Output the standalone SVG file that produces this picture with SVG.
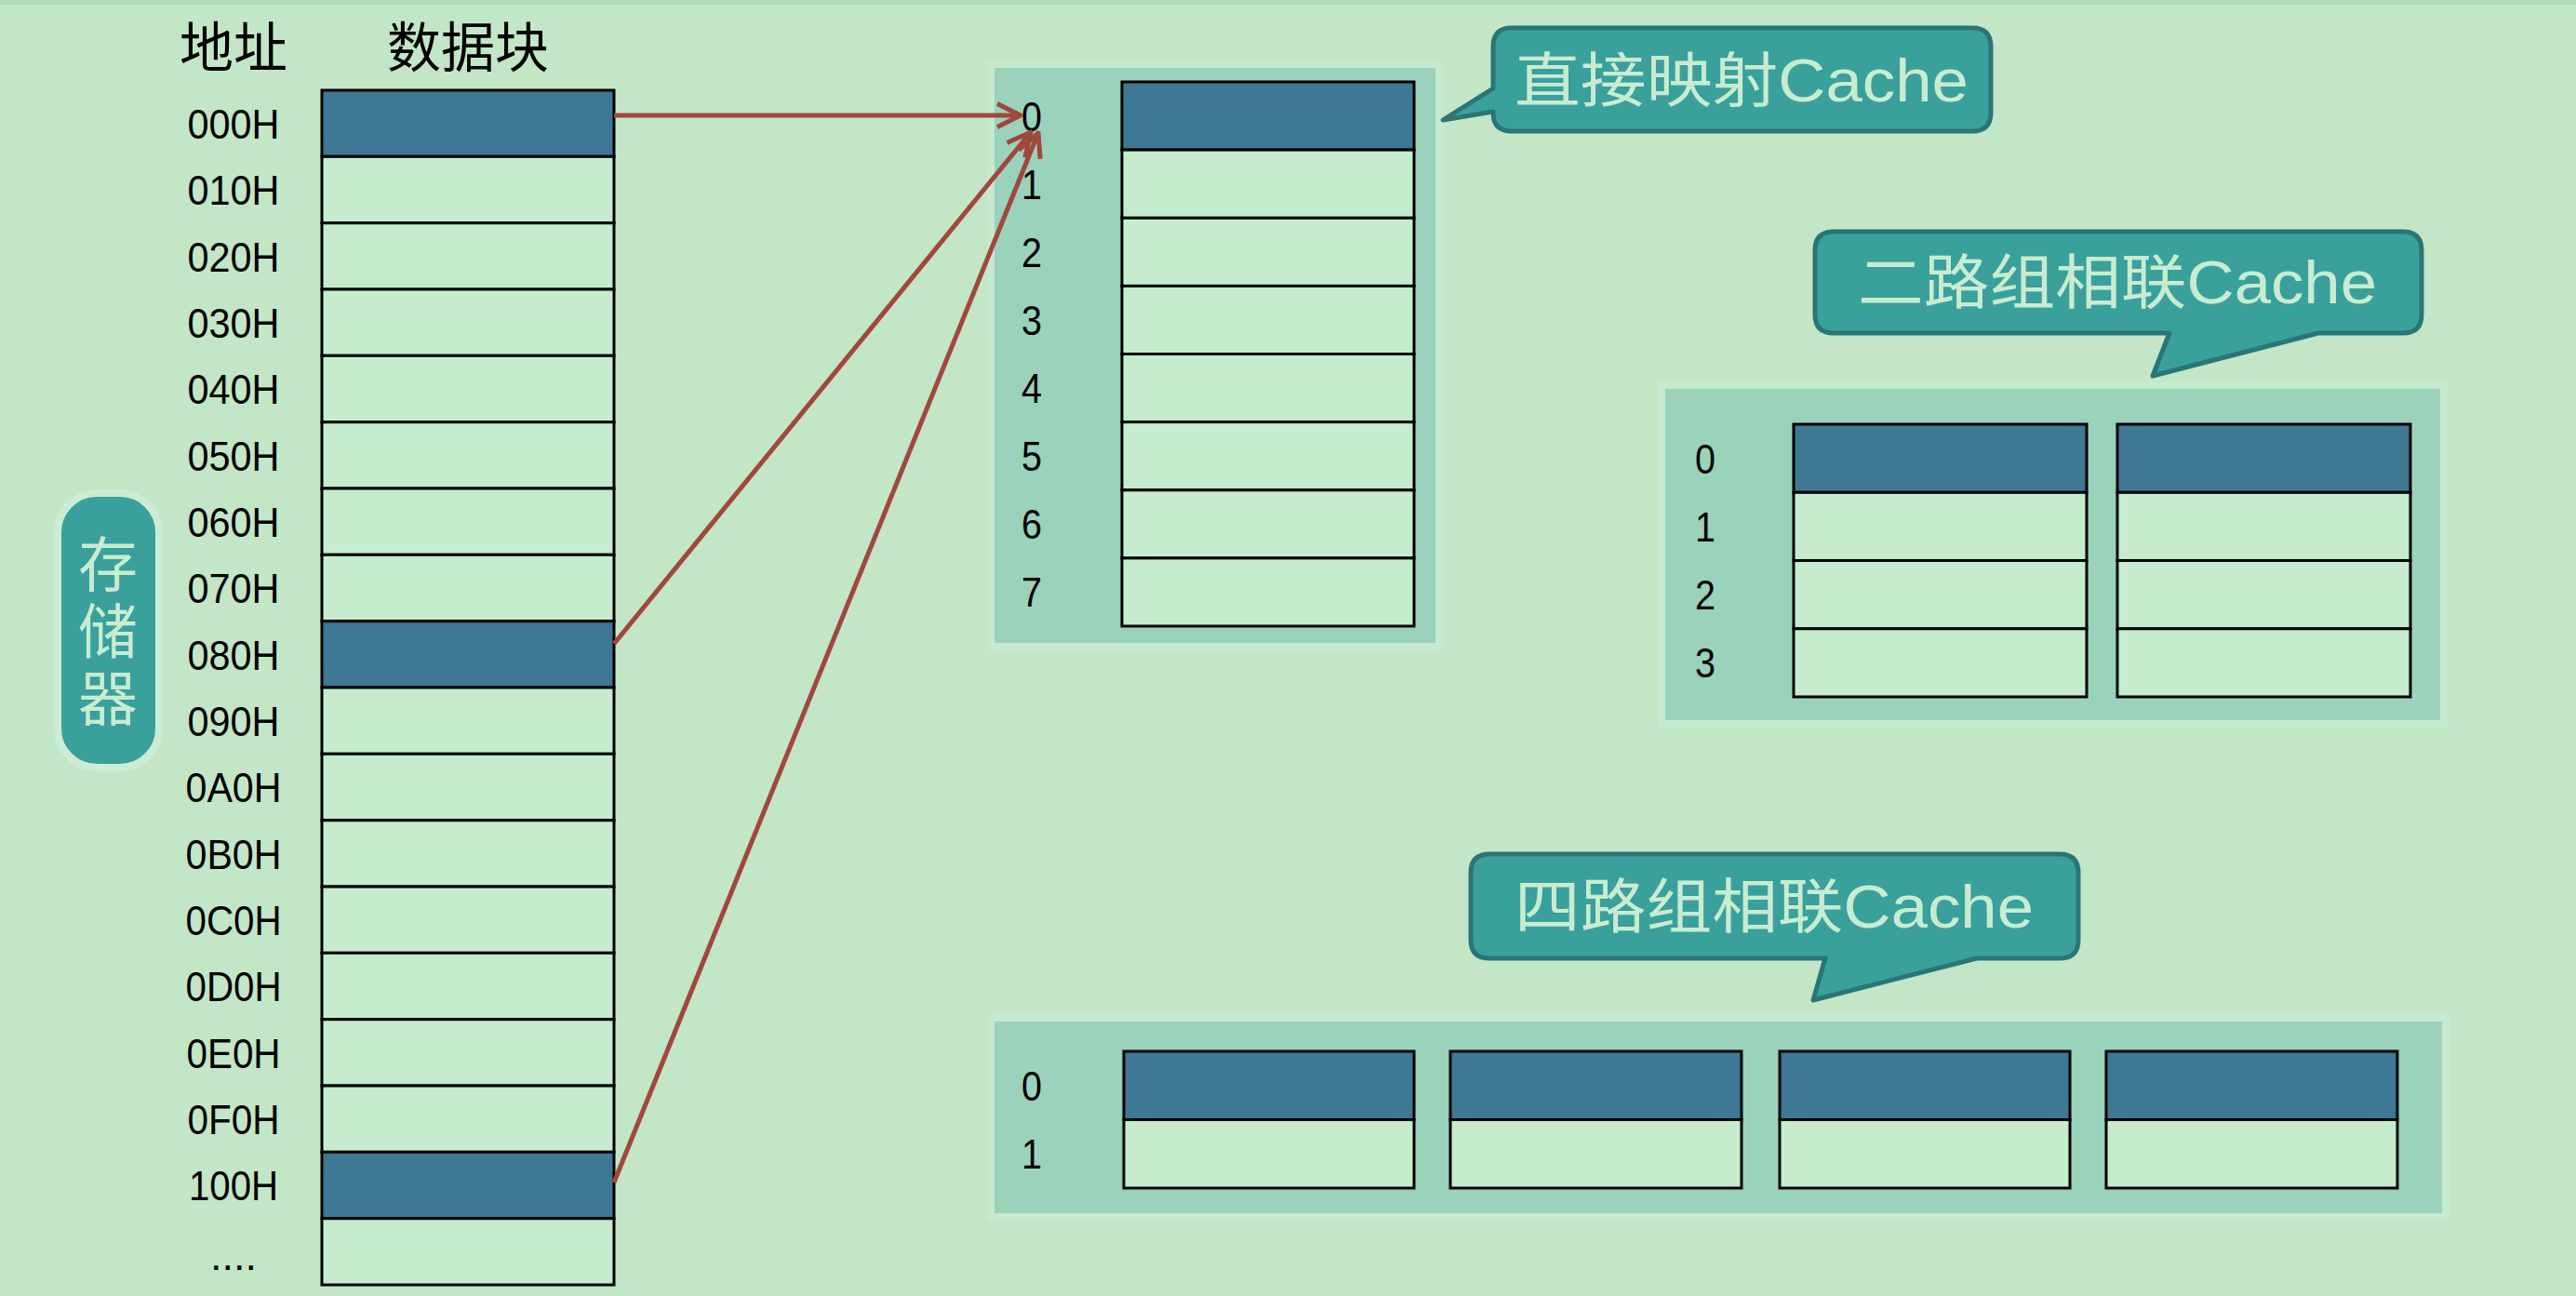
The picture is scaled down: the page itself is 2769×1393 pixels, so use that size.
<svg xmlns="http://www.w3.org/2000/svg" width="2769" height="1393" viewBox="0 0 2769 1393">
<defs>
<style>
.lbl{font-family:"Liberation Sans","Noto Sans CJK SC",sans-serif;font-size:45px;fill:#000;text-anchor:middle}
.hdr{font-family:"Liberation Sans","Noto Sans CJK SC",sans-serif;font-size:58px;fill:#000;text-anchor:middle}
.ct{font-family:"Liberation Sans","Noto Sans CJK SC",sans-serif;font-size:64px;fill:#c8ecd0}
.cell{fill:#c6eccd;stroke:#000;stroke-width:3}
.dark{fill:#3e7894;stroke:#000;stroke-width:3}
.panel{fill:#9bd2bb;stroke:#c6eacf;stroke-width:8}
.callout{fill:#3aa09c;stroke:#2a7676;stroke-width:5;stroke-linejoin:round}
.arr{stroke:#a0483e;stroke-width:5;fill:none;marker-end:url(#ah)}
</style>
<marker id="ah" viewBox="0 0 12 12" refX="11" refY="6" markerWidth="6" markerHeight="6" orient="auto" markerUnits="strokeWidth">
<path d="M1,1 L11,6 L1,11" fill="none" stroke="#a0483e" stroke-width="2"/>
</marker>
</defs>
<rect x="0" y="0" width="2769" height="1393" fill="#c3e6c7"/>
<rect x="0" y="0" width="2769" height="5" fill="#b5dcbb"/>

<g id="headers">
<text class="hdr" x="251" y="72">地址</text>
<text class="hdr" x="503" y="72">数据块</text>
</g>

<g id="memory-label">
<rect x="62" y="530" width="109" height="295" rx="42" fill="#3aa09c" stroke="#ccecd4" stroke-width="8"/>
<text class="ct" x="116" y="630" font-size="68" text-anchor="middle">存</text>
<text class="ct" x="116" y="702" font-size="68" text-anchor="middle">储</text>
<text class="ct" x="116" y="774" font-size="68" text-anchor="middle">器</text>
</g>

<g id="memory">
<rect class="dark" x="346" y="97" width="314" height="71.3"/>
<rect class="cell" x="346" y="168.3" width="314" height="71.4"/>
<rect class="cell" x="346" y="239.7" width="314" height="71.3"/>
<rect class="cell" x="346" y="311" width="314" height="71.3"/>
<rect class="cell" x="346" y="382.3" width="314" height="71.4"/>
<rect class="cell" x="346" y="453.7" width="314" height="71.3"/>
<rect class="cell" x="346" y="525" width="314" height="71.3"/>
<rect class="cell" x="346" y="596.3" width="314" height="71.4"/>
<rect class="dark" x="346" y="667.7" width="314" height="71.3"/>
<rect class="cell" x="346" y="739" width="314" height="71.3"/>
<rect class="cell" x="346" y="810.3" width="314" height="71.4"/>
<rect class="cell" x="346" y="881.7" width="314" height="71.3"/>
<rect class="cell" x="346" y="953" width="314" height="71.3"/>
<rect class="cell" x="346" y="1024.3" width="314" height="71.4"/>
<rect class="cell" x="346" y="1095.7" width="314" height="71.3"/>
<rect class="cell" x="346" y="1167" width="314" height="71.3"/>
<rect class="dark" x="346" y="1238.3" width="314" height="71.4"/>
<rect class="cell" x="346" y="1309.7" width="314" height="71.3"/>
<text class="lbl" x="251" y="149" textLength="99" lengthAdjust="spacingAndGlyphs">000H</text>
<text class="lbl" x="251" y="220" textLength="99" lengthAdjust="spacingAndGlyphs">010H</text>
<text class="lbl" x="251" y="292" textLength="99" lengthAdjust="spacingAndGlyphs">020H</text>
<text class="lbl" x="251" y="363" textLength="99" lengthAdjust="spacingAndGlyphs">030H</text>
<text class="lbl" x="251" y="434" textLength="99" lengthAdjust="spacingAndGlyphs">040H</text>
<text class="lbl" x="251" y="506" textLength="99" lengthAdjust="spacingAndGlyphs">050H</text>
<text class="lbl" x="251" y="577" textLength="99" lengthAdjust="spacingAndGlyphs">060H</text>
<text class="lbl" x="251" y="648" textLength="99" lengthAdjust="spacingAndGlyphs">070H</text>
<text class="lbl" x="251" y="720" textLength="99" lengthAdjust="spacingAndGlyphs">080H</text>
<text class="lbl" x="251" y="791" textLength="99" lengthAdjust="spacingAndGlyphs">090H</text>
<text class="lbl" x="251" y="862" textLength="103" lengthAdjust="spacingAndGlyphs">0A0H</text>
<text class="lbl" x="251" y="934" textLength="103" lengthAdjust="spacingAndGlyphs">0B0H</text>
<text class="lbl" x="251" y="1005" textLength="103" lengthAdjust="spacingAndGlyphs">0C0H</text>
<text class="lbl" x="251" y="1076" textLength="103" lengthAdjust="spacingAndGlyphs">0D0H</text>
<text class="lbl" x="251" y="1148" textLength="101" lengthAdjust="spacingAndGlyphs">0E0H</text>
<text class="lbl" x="251" y="1219" textLength="99" lengthAdjust="spacingAndGlyphs">0F0H</text>
<text class="lbl" x="251" y="1290" textLength="96" lengthAdjust="spacingAndGlyphs">100H</text>
<text class="lbl" x="251" y="1365">....</text>
</g>

<g id="direct-cache">
<rect class="panel" x="1065" y="69" width="482" height="626"/>
<rect class="dark" x="1206" y="88" width="314" height="73.1"/>
<rect class="cell" x="1206" y="161.1" width="314" height="73.2"/>
<rect class="cell" x="1206" y="234.3" width="314" height="73.1"/>
<rect class="cell" x="1206" y="307.4" width="314" height="73.1"/>
<rect class="cell" x="1206" y="380.5" width="314" height="73.1"/>
<rect class="cell" x="1206" y="453.6" width="314" height="73.2"/>
<rect class="cell" x="1206" y="526.8" width="314" height="73.1"/>
<rect class="cell" x="1206" y="599.9" width="314" height="73.1"/>
<text class="lbl" x="1109" y="141" textLength="22" lengthAdjust="spacingAndGlyphs">0</text>
<text class="lbl" x="1109" y="214" textLength="22" lengthAdjust="spacingAndGlyphs">1</text>
<text class="lbl" x="1109" y="287" textLength="22" lengthAdjust="spacingAndGlyphs">2</text>
<text class="lbl" x="1109" y="360" textLength="22" lengthAdjust="spacingAndGlyphs">3</text>
<text class="lbl" x="1109" y="433" textLength="22" lengthAdjust="spacingAndGlyphs">4</text>
<text class="lbl" x="1109" y="506" textLength="22" lengthAdjust="spacingAndGlyphs">5</text>
<text class="lbl" x="1109" y="579" textLength="22" lengthAdjust="spacingAndGlyphs">6</text>
<text class="lbl" x="1109" y="652" textLength="22" lengthAdjust="spacingAndGlyphs">7</text>
</g>

<g id="callout-direct">
<path class="callout" d="M1625,30 H2120 Q2140,30 2140,50 V121 Q2140,141 2120,141 H1625 Q1605,141 1605,121 V120 L1551,129 L1605,95 V50 Q1605,30 1625,30 Z"/>
<text class="ct" x="1628" y="109" textLength="488" lengthAdjust="spacingAndGlyphs">直接映射Cache</text>
</g>

<g id="two-way-cache">
<rect class="panel" x="1786" y="414" width="841" height="364"/>
<rect class="dark" x="1928" y="456" width="315" height="73.3"/>
<rect class="cell" x="1928" y="529.3" width="315" height="73.2"/>
<rect class="cell" x="1928" y="602.5" width="315" height="73.3"/>
<rect class="cell" x="1928" y="675.8" width="315" height="73.2"/>
<rect class="dark" x="2276" y="456" width="315" height="73.3"/>
<rect class="cell" x="2276" y="529.3" width="315" height="73.2"/>
<rect class="cell" x="2276" y="602.5" width="315" height="73.3"/>
<rect class="cell" x="2276" y="675.8" width="315" height="73.2"/>
<text class="lbl" x="1833" y="509" textLength="22" lengthAdjust="spacingAndGlyphs">0</text>
<text class="lbl" x="1833" y="582" textLength="22" lengthAdjust="spacingAndGlyphs">1</text>
<text class="lbl" x="1833" y="655" textLength="22" lengthAdjust="spacingAndGlyphs">2</text>
<text class="lbl" x="1833" y="728" textLength="22" lengthAdjust="spacingAndGlyphs">3</text>
</g>

<g id="callout-two-way">
<path class="callout" d="M1971,249 H2583 Q2603,249 2603,269 V338 Q2603,358 2583,358 H2492 L2314,404 L2332,358 H1971 Q1951,358 1951,338 V269 Q1951,249 1971,249 Z"/>
<text class="ct" x="1997" y="326" textLength="558" lengthAdjust="spacingAndGlyphs">二路组相联Cache</text>
</g>

<g id="four-way-cache">
<rect class="panel" x="1065" y="1094" width="1564" height="214"/>
<rect class="dark" x="1208" y="1130" width="312" height="73.5"/>
<rect class="cell" x="1208" y="1203.5" width="312" height="73.5"/>
<rect class="dark" x="1559" y="1130" width="313" height="73.5"/>
<rect class="cell" x="1559" y="1203.5" width="313" height="73.5"/>
<rect class="dark" x="1913" y="1130" width="312" height="73.5"/>
<rect class="cell" x="1913" y="1203.5" width="312" height="73.5"/>
<rect class="dark" x="2264" y="1130" width="313" height="73.5"/>
<rect class="cell" x="2264" y="1203.5" width="313" height="73.5"/>
<text class="lbl" x="1109" y="1183" textLength="22" lengthAdjust="spacingAndGlyphs">0</text>
<text class="lbl" x="1109" y="1256" textLength="22" lengthAdjust="spacingAndGlyphs">1</text>
</g>

<g id="callout-four-way">
<path class="callout" d="M1601,918 H2214 Q2234,918 2234,938 V1010 Q2234,1030 2214,1030 H2125 L1949,1075 L1962,1030 H1601 Q1581,1030 1581,1010 V938 Q1581,918 1601,918 Z"/>
<text class="ct" x="1628" y="997" textLength="558" lengthAdjust="spacingAndGlyphs">四路组相联Cache</text>
</g>

<g id="connectors">
<line class="arr" x1="660" y1="124" x2="1097" y2="124"/>
<line class="arr" x1="660" y1="692" x2="1108" y2="142"/>
<line class="arr" x1="660" y1="1271" x2="1116" y2="143"/>
</g>
</svg>
